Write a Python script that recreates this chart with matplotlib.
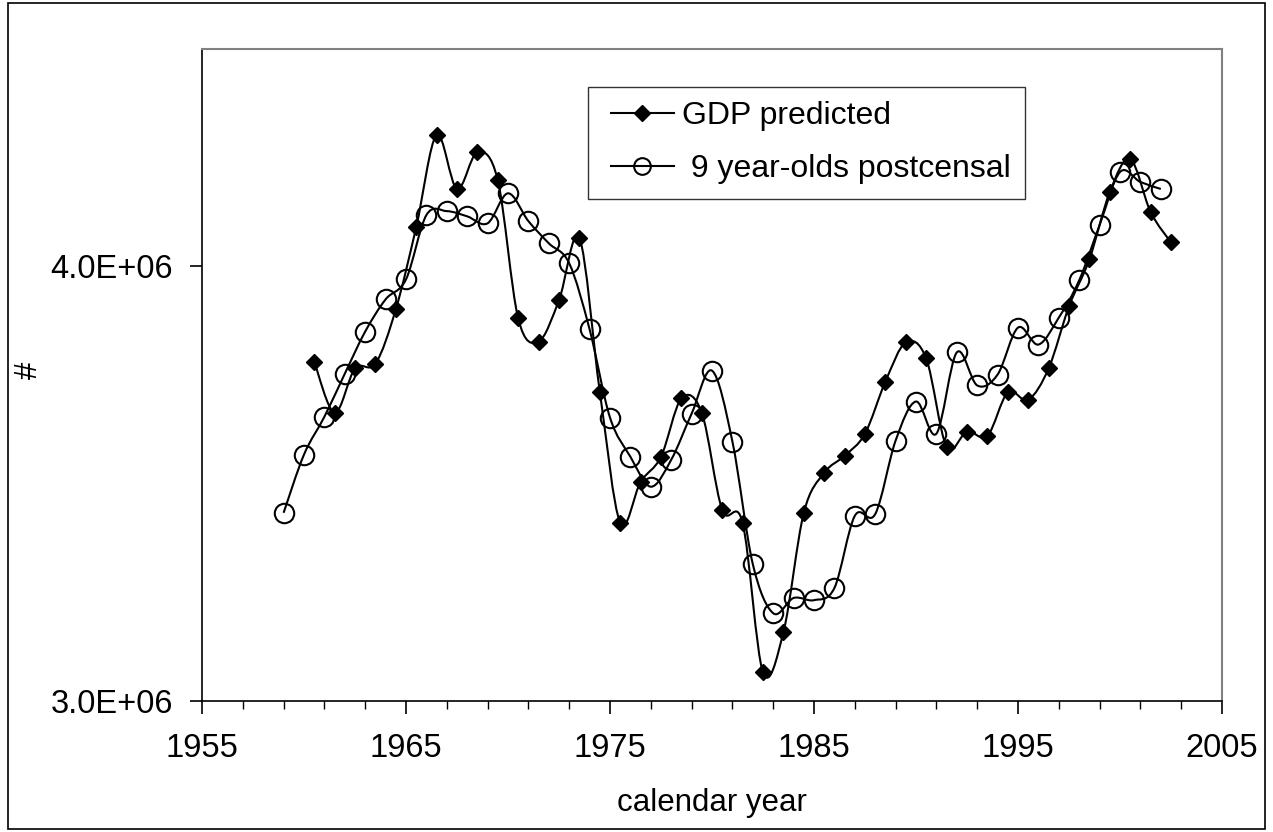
import numpy as np
import matplotlib
matplotlib.use('Agg')
import matplotlib.pyplot as plt
from matplotlib.path import Path
from matplotlib.patches import PathPatch, Rectangle
from matplotlib.lines import Line2D
from matplotlib.legend_handler import HandlerLine2D
from matplotlib.ticker import FixedLocator, FuncFormatter

plt.rcParams['font.family'] = ['Liberation Sans', 'DejaVu Sans']

# GDP predicted (mid-year points)
gdp_years = np.arange(1960.5, 2003.0, 1.0)
gdp_vals = [3.781, 3.663, 3.765, 3.776, 3.901, 4.090, 4.302, 4.178, 4.263, 4.198,
            3.880, 3.827, 3.922, 4.065, 3.712, 3.410, 3.504, 3.562, 3.696, 3.663,
            3.440, 3.410, 3.066, 3.158, 3.433, 3.525, 3.564, 3.615, 3.735, 3.825,
            3.788, 3.585, 3.620, 3.610, 3.710, 3.693, 3.765, 3.908, 4.016, 4.171,
            4.247, 4.125, 4.055]

# 9 year-olds postcensal
pop_years = np.arange(1959, 2003)
pop_vals = [3.433, 3.567, 3.654, 3.753, 3.850, 3.924, 3.970, 4.118, 4.127, 4.115,
            4.099, 4.168, 4.104, 4.053, 4.007, 3.855, 3.652, 3.562, 3.493, 3.555,
            3.661, 3.760, 3.597, 3.315, 3.202, 3.237, 3.232, 3.260, 3.426, 3.430,
            3.599, 3.689, 3.615, 3.802, 3.726, 3.751, 3.859, 3.820, 3.882, 3.968,
            4.095, 4.217, 4.194, 4.178]

gdp_vals = np.array(gdp_vals) * 1e6
pop_vals = np.array(pop_vals) * 1e6


def smooth_path(x, y):
    # excel-like smoothed line: catmull-rom segments as cubic beziers
    pts = np.column_stack([x, y])
    verts = [pts[0]]
    codes = [Path.MOVETO]
    n = len(pts)
    for i in range(n - 1):
        p0 = pts[i - 1] if i > 0 else pts[i]
        p1 = pts[i]
        p2 = pts[i + 1]
        p3 = pts[i + 2] if i + 2 < n else pts[i + 1]
        c1 = p1 + (p2 - p0) / 6.0
        c2 = p2 - (p3 - p1) / 6.0
        verts += [c1, c2, p2]
        codes += [Path.CURVE4] * 3
    return Path(verts, codes)


W, H = 1273, 832
fig = plt.figure(figsize=(W / 100, H / 100), dpi=100)
ax = fig.add_axes([202 / W, 1 - 701 / H, (1222 - 202) / W, (701 - 49) / H])

lw = 1.5
ax.add_patch(PathPatch(smooth_path(gdp_years, gdp_vals), fill=False, edgecolor='black', lw=lw))
ax.plot(gdp_years, gdp_vals, linestyle='none', marker='D', markersize=8,
        color='black', zorder=3)
ax.add_patch(PathPatch(smooth_path(pop_years, pop_vals), fill=False, edgecolor='black', lw=lw))
ax.plot(pop_years, pop_vals, linestyle='none', marker='o', markersize=14,
        markerfacecolor='none', markeredgecolor='black', markeredgewidth=1.5, zorder=4)

ax.set_xlim(1955, 2005)
ax.set_ylim(3.0e6, 4.5e6)
ax.xaxis.set_major_locator(FixedLocator(np.arange(1955, 2006, 10)))
ax.xaxis.set_minor_locator(FixedLocator(np.arange(1955, 2006, 2)))
ax.yaxis.set_major_locator(FixedLocator([3.0e6, 4.0e6]))
ax.yaxis.set_major_formatter(FuncFormatter(lambda v, p: f"{v:.1E}"))

fs = 23.5
ax.tick_params(axis='both', which='major', direction='out', length=9, width=1.2,
               labelsize=fs, pad=14)
ax.tick_params(axis='x', which='minor', direction='out', length=6, width=1.0)
ax.tick_params(axis='y', which='major', pad=12)
for s in ['top', 'right']:
    ax.spines[s].set_color('#808080')
    ax.spines[s].set_linewidth(1.5)
for s in ['left', 'bottom']:
    ax.spines[s].set_color('black')
    ax.spines[s].set_linewidth(1.2)

ax.set_xlabel('calendar year', fontsize=22.5, labelpad=17)
ax.set_ylabel('#', fontsize=22.5)
ax.yaxis.set_label_coords((44 - 202) / 1020, (701 - 370) / 652)

lfs = 23
handles = [
    Line2D([], [], color='black', lw=lw, marker='D', markersize=8),
    Line2D([], [], color='black', lw=lw, marker='o', markersize=12,
           markerfacecolor='none', markeredgewidth=1.5),
]
hmap = {h: HandlerLine2D(xpad=0.28) for h in handles}
leg = ax.legend(handles, ['GDP predicted', ' 9 year-olds postcensal'],
                loc='upper left', bbox_to_anchor=(588 / W, 1 - 87 / H),
                bbox_transform=fig.transFigure, borderaxespad=0, fontsize=lfs,
                frameon=True, fancybox=False, handlelength=2.23, handletextpad=0.25,
                labelspacing=0.72, borderpad=0.45, handler_map=hmap)
leg.get_frame().set_edgecolor('black')
leg.get_frame().set_linewidth(1.0)

fig.patches.append(Rectangle((8 / W, 3 / H), (1265 - 8) / W, (829 - 3) / H,
                             transform=fig.transFigure, fill=False,
                             edgecolor='black', lw=1.2))

fig.savefig('out.png', dpi=100)
